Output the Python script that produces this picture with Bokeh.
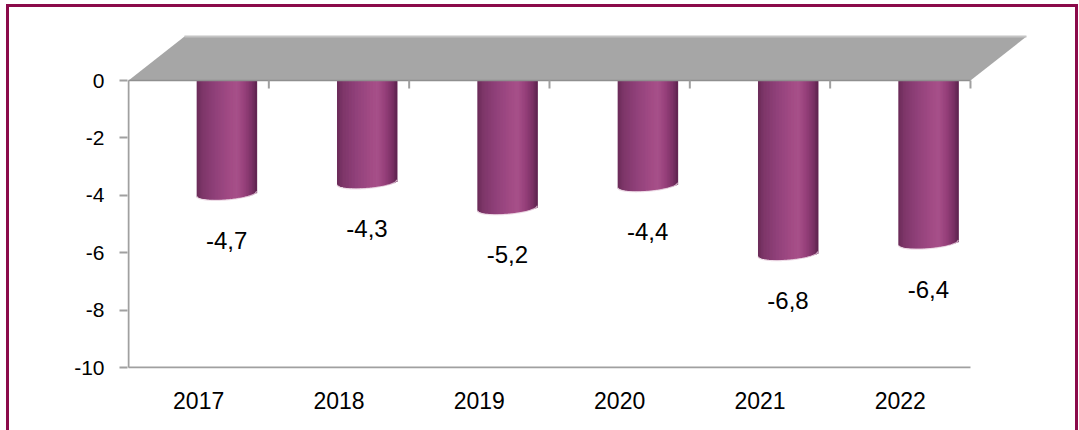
import numpy as np
from bokeh.plotting import figure
from bokeh.models import Range1d, FixedTicker, ColumnDataSource
from bokeh.embed import file_html
from bokeh.resources import INLINE
from bokeh.core.properties import value

# ---- data ----
years = ["2017", "2018", "2019", "2020", "2021", "2022"]
values = [-4.7, -4.3, -5.2, -4.4, -6.8, -6.4]
y_ticks = [0, -2, -4, -6, -8, -10]

# ---- layout constants ----
W, H = 1079, 430
PXX, PXY = 140.33, 28.7          # pixels per data unit
DX, DY = 56 / PXX, 44 / PXY      # 3-D depth offset (data units)
R = 30 / PXX                     # cylinder radius (x)
RY = 6 / PXY                     # bottom ellipse half height
TILT = 2.5 / PXY
FONT = "Liberation Sans"
MAROON = "#8B0A4A"
GREY_LINE = "#a0a0a0"

n_cat = len(years)
p = figure(width=W, height=H, output_backend="svg", toolbar_location=None,
           x_range=Range1d(-1 / PXX, 902 / PXX),
           y_range=Range1d(-288 / PXY, 46 / PXY),
           min_border_left=127, min_border_right=49,
           min_border_top=34, min_border_bottom=62)
p.outline_line_color = None
p.grid.visible = False
p.background_fill_color = "white"
p.border_fill_color = None
# maroon frame (left / top / right) drawn as CSS inset shadows behind the transparent border area
p.styles = {"box-shadow": ", ".join([
    "inset 6px 0 0 0 #ffffff", "inset 0 4px 0 0 #ffffff", "inset -1px 0 0 0 #ffffff",
    f"inset 9px 0 0 0 {MAROON}", f"inset 0 7px 0 0 {MAROON}", f"inset -4px 0 0 0 {MAROON}"])}

# ---- cylinders ----
stops_u = [-1.0, -0.8, -0.4, 0.1, 0.35, 0.6, 0.85, 1.0]
stops_c = ["#6a2b58", "#7e3669", "#8f4079", "#a24b85", "#a75089", "#963f7a", "#7a3165", "#5c234e"]
stops_rgb = np.array([[int(c[i:i + 2], 16) for i in (1, 3, 5)] for c in stops_c], dtype=float)


def shade(u):
    rgb = [np.interp(u, stops_u, stops_rgb[:, k]) for k in range(3)]
    return "#%02x%02x%02x" % tuple(int(round(x)) for x in rgb)


n = 40
edges = np.linspace(-1, 1, n + 1)
uc = (edges[:-1] + edges[1:]) / 2
L, Rr, T, B, C = [], [], [], [], []
rim_x, rim_y = [], []
for i, v in enumerate(values):
    cx = i + 0.5 + DX / 2
    yb = v + DY / 2
    bottoms = yb - RY * np.sqrt(np.clip(1 - uc ** 2, 0, 1)) + TILT * uc
    for k in range(n):
        L.append(cx + edges[k] * R)
        Rr.append(cx + edges[k + 1] * R + (2.0 / PXX if k < n - 1 else 0))
        T.append(DY / 2)
        B.append(bottoms[k])
        C.append(shade(uc[k]))
    uu = np.linspace(-1, 1, 50)
    rim_x.append(list(cx + uu * R))
    rim_y.append(list(yb - RY * np.sqrt(np.clip(1 - uu ** 2, 0, 1)) + TILT * uu - 0.5 / PXY))

p.quad(left=L, right=Rr, top=T, bottom=B, fill_color=C, line_color=None)
p.multi_line(xs=rim_x, ys=rim_y, line_color="#e8d2e0", line_width=1.2, line_alpha=0.8)

# ---- floor plane ----
p.patch(x=[0, n_cat, n_cat + DX, DX], y=[0, 0, DY, DY],
        fill_color="#a6a6a6", line_color=None)
p.line(x=[DX, n_cat + DX], y=[DY, DY], line_color="#c4c4c4", line_width=2)
p.line(x=[0, n_cat], y=[0, 0], line_color="#8f8f8f", line_width=1.5)

# category tick marks under the plane
cat_edges = list(range(1, n_cat + 1))
p.segment(x0=cat_edges, y0=[0] * n_cat, x1=cat_edges, y1=[-8 / PXY] * n_cat,
          line_color=GREY_LINE, line_width=2)

# axis lines
p.segment(x0=[0, 0], y0=[0, y_ticks[-1]], x1=[0, n_cat], y1=[y_ticks[-1], y_ticks[-1]],
          line_color=GREY_LINE, line_width=2)

# ---- data labels ----
lab_src = ColumnDataSource(dict(
    x=[i + 0.5 + DX / 2 for i in range(n_cat)],
    y=values,
    t=[("%.1f" % v).replace(".", ",") for v in values]))
p.text(x="x", y="y", text="t", source=lab_src, y_offset=25,
       text_align="center", text_baseline="middle",
       text_font=value(FONT), text_font_size="24px", text_color="black")

# ---- axes ----
yax = p.yaxis[0]
yax.ticker = FixedTicker(ticks=y_ticks)
yax.major_label_overrides = {float(t): str(t) for t in y_ticks}
yax.axis_line_color = None
yax.major_tick_line_color = GREY_LINE
yax.major_tick_line_width = 2
yax.major_tick_out = 8
yax.major_tick_in = 0
yax.minor_tick_line_color = None
yax.major_label_text_font = FONT
yax.major_label_text_font_size = "21px"
yax.major_label_text_color = "black"
yax.major_label_standoff = 15

xax = p.xaxis[0]
xax.ticker = FixedTicker(ticks=[i + 0.5 for i in range(n_cat)])
xax.major_label_overrides = {i + 0.5: y for i, y in enumerate(years)}
xax.axis_line_color = None
xax.major_tick_line_color = None
xax.minor_tick_line_color = None
xax.major_label_text_font = FONT
xax.major_label_text_font_size = "23px"
xax.major_label_text_color = "black"
xax.major_label_standoff = 17

open("out.html", "w").write(file_html(p, INLINE))
